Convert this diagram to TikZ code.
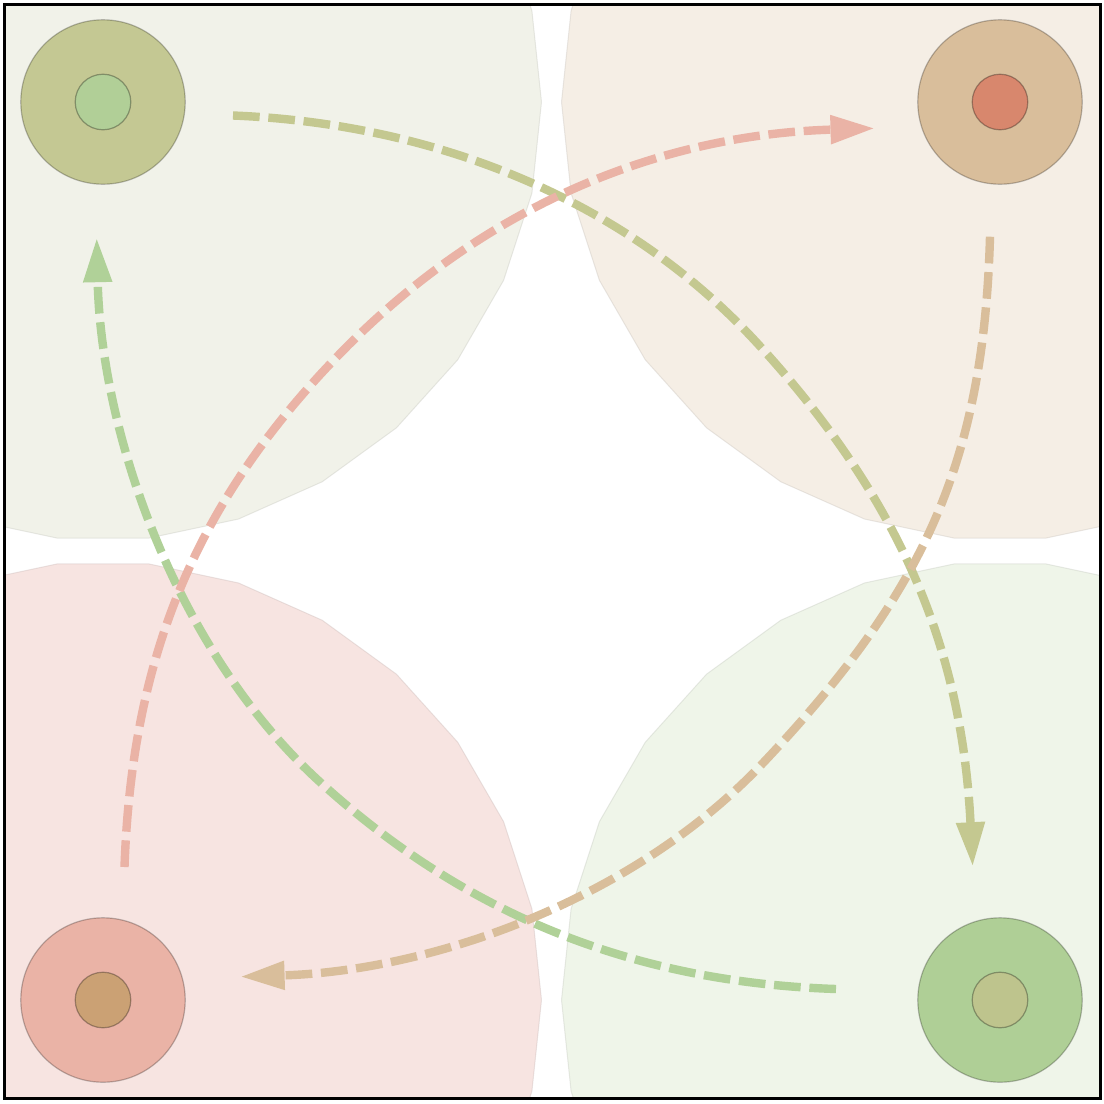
\documentclass[tikz,border=0pt]{standalone}
\usetikzlibrary{arrows.meta,calc}
\definecolor{regTL}{HTML}{F1F2E9}
\definecolor{regTR}{HTML}{F5EEE5}
\definecolor{regBL}{HTML}{F7E4E1}
\definecolor{regBR}{HTML}{EFF5E9}
\definecolor{outTL}{HTML}{C4C893}
\definecolor{inTL}{HTML}{B1CF97}
\definecolor{outTR}{HTML}{D9BE9B}
\definecolor{inTR}{HTML}{D8876D}
\definecolor{outBL}{HTML}{EAB3A6}
\definecolor{inBL}{HTML}{CBA174}
\definecolor{outBR}{HTML}{AFCF96}
\definecolor{inBR}{HTML}{BEC48D}
\definecolor{arOlive}{HTML}{C4C890}
\definecolor{arPink}{HTML}{EAB3A6}
\definecolor{arTan}{HTML}{D9BE9B}
\definecolor{arGreen}{HTML}{B0D198}
\begin{document}
\begin{tikzpicture}[x=0.5pt,y=-0.5pt,
  outerdisc/.style={circle, minimum size=82.2pt, inner sep=0pt, outer sep=0pt, draw=black, draw opacity=0.25, line width=0.6pt},
  innerdisc/.style={circle, minimum size=27.8pt, inner sep=0pt, outer sep=0pt, draw=black, draw opacity=0.3, line width=0.6pt},
  region/.style={line width=0.5pt, draw opacity=0.35},
  flow/.style={line width=4.2pt, dash pattern=on 13.35pt off 4.35pt, -{Triangle[length=22.25pt,width=13.5pt]}},
]
\useasboundingbox (0,0) rectangle (1104,1104);
\begin{scope}
\clip (5,5.5) rectangle (1099.5,1097.5);
\foreach \cx/\cy/\c in {103/102/regTL, 1000/102/regTR, 103/1000/regBL, 1000/1000/regBR}{
  \filldraw[region, fill=\c, draw=\c!80!black, shift={(\cx,\cy)}] (0:438.5) \foreach \a in {12,24,...,348}{ -- (\a:438.5)} -- cycle;
}
\end{scope}
\node[outerdisc, fill=outTL] (tl) at (103,102) {};
\node[innerdisc, fill=inTL] (tlc) at (103,102) {};
\node[outerdisc, fill=outTR] (tr) at (1000,102) {};
\node[innerdisc, fill=inTR] (trc) at (1000,102) {};
\node[outerdisc, fill=outBL] (bl) at (103,1000) {};
\node[innerdisc, fill=inBL] (blc) at (103,1000) {};
\node[outerdisc, fill=outBR] (br) at (1000,1000) {};
\node[innerdisc, fill=inBR] (brc) at (1000,1000) {};
\coordinate (a1s) at ($(tl)+(130,13.5)$);
\coordinate (a1e) at ($(br)+(-27.3,-133.3)$);
\coordinate (a2s) at ($(bl)+(21.5,-133)$);
\coordinate (a2e) at ($(tr)+(-125,26.3)$);
\coordinate (a3s) at ($(tr)+(-10,134.7)$);
\coordinate (a3e) at ($(bl)+(137.1,-23.3)$);
\coordinate (a4s) at ($(br)+(-164,-11)$);
\coordinate (a4e) at ($(tl)+(-6.3,135.7)$);
\draw[flow, draw=arOlive] (a1s) .. controls (431.8,123.5) and (623.7,197.3) .. (758,344) .. controls (903.1,502.5) and (962,651.7) .. (a1e);
\draw[flow, draw=arGreen] (a4s) .. controls (636,982.4) and (468,916.6) .. (320,782) .. controls (175.7,650.8) and (101,432.7) .. (a4e);
\draw[flow, draw=arPink] (a2s) .. controls (131.9,657) and (195.3,501.2) .. (342.3,351.3) .. controls (489.3,201.4) and (665,134.6) .. (a2e);
\draw[flow, draw=arTan] (a3s) .. controls (983.6,466.7) and (920.8,595.8) .. (763,763) .. controls (632.7,901.1) and (430.1,970.9) .. (a3e);
\draw[line width=1.5pt] (4,4.5) rectangle (1100.5,1098.5);
\end{tikzpicture}
\end{document}
